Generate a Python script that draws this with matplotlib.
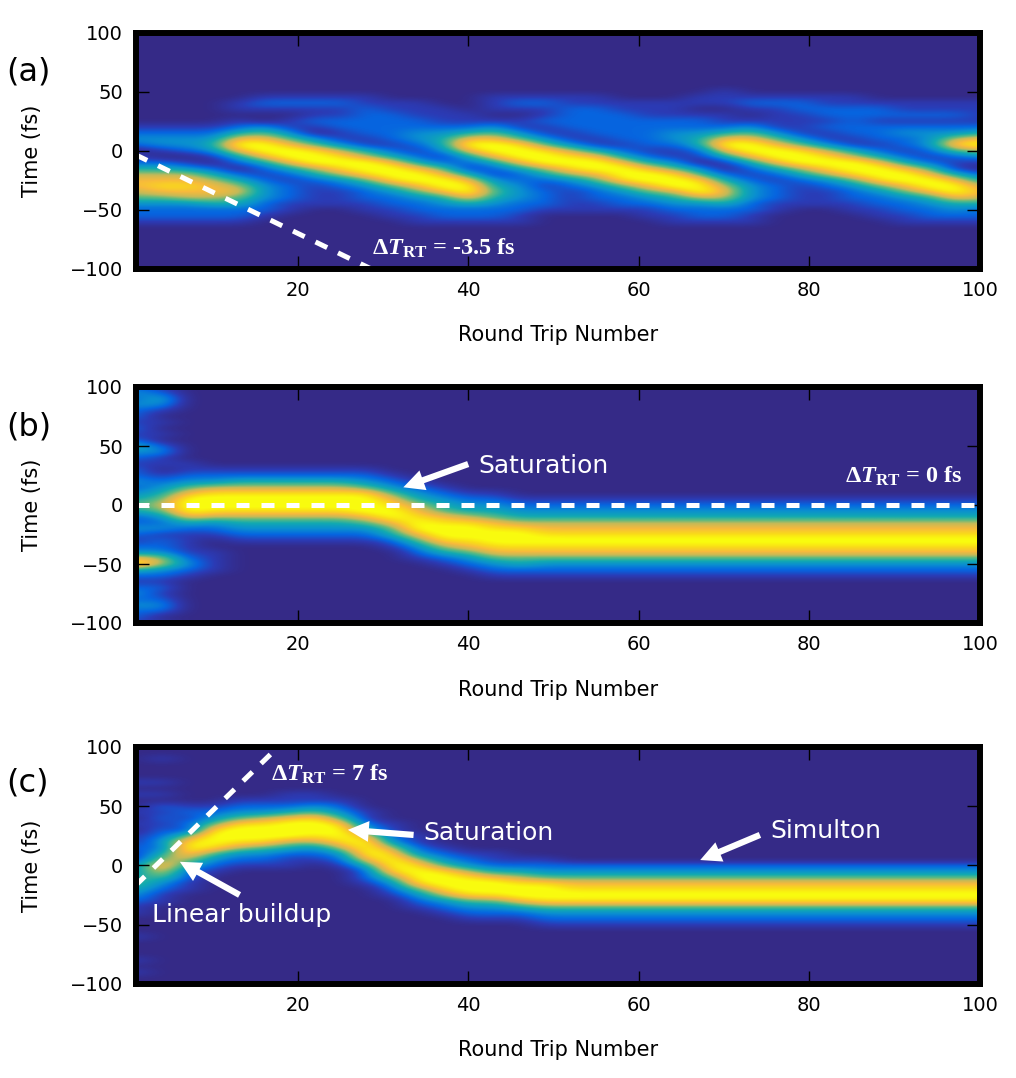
import numpy as np
import matplotlib
matplotlib.use('Agg')
import matplotlib.pyplot as plt
from matplotlib.colors import LinearSegmentedColormap

plt.rcParams['mathtext.fontset'] = 'custom'
plt.rcParams['mathtext.rm'] = 'Liberation Serif:bold'
plt.rcParams['mathtext.it'] = 'Liberation Serif:bold:italic'
plt.rcParams['mathtext.bf'] = 'Liberation Serif:bold'

W, H = 1016, 1078

# grid the intensity was read on
round_trips = np.arange(1, 101, 3)
times = np.arange(100, -105, -5)

# one string per round trip, intensity 0-9 from +100 fs down to -100 fs
panel_a = [
    '00000 00000 00000 01232 01246 77653 22100 00000 0',
    '00000 00000 00000 01233 10246 78753 22100 00000 0',
    '00000 00000 00000 01233 20136 78763 22100 00000 0',
    '00000 00000 00000 01234 31024 67764 22100 00000 0',
    '00000 00000 00110 12479 74202 46754 22100 00000 0',
    '00000 00000 01210 03579 97421 23332 21000 00000 0',
    '00000 00000 01210 11357 99742 12221 10000 00000 0',
    '00000 00000 01211 21035 89964 21111 00000 00000 0',
    '00000 00000 01211 22113 68986 32111 00000 00000 0',
    '00000 00000 01122 22211 46998 53221 10000 00000 0',
    '00000 00000 00112 22221 24799 85322 11000 00000 0',
    '00000 00000 00111 22332 12479 97532 21100 00000 0',
    '00000 00000 00011 12344 31257 99743 22100 00000 0',
    '00000 00000 00001 12479 74214 79974 22100 00000 0',
    '00000 00000 01110 13579 97421 34543 22100 00000 0',
    '00000 00000 01210 11358 99742 23332 21100 00000 0',
    '00000 00000 01211 21135 89964 21222 10000 00000 0',
    '00000 00000 01122 22113 68986 32111 10000 00000 0',
    '00000 00000 01122 22211 47997 53221 10000 00000 0',
    '00000 00000 00112 22221 24799 85322 10000 00000 0',
    '00000 00000 00111 22222 12479 97532 11000 00000 0',
    '00000 00000 00111 22332 11358 99643 21100 00000 0',
    '00000 00000 01101 22344 21035 89963 22100 00000 0',
    '00000 00000 11101 12479 74102 46764 22100 00000 0',
    '00000 00000 01210 13579 97421 23332 21100 00000 0',
    '00000 00000 01211 11357 99742 12221 10000 00000 0',
    '00000 00000 01221 11135 89964 21111 00000 00000 0',
    '00000 00000 01122 12113 68986 32111 00000 00000 0',
    '00000 00000 01122 22211 46998 53221 10000 00000 0',
    '00000 00000 00122 12221 24799 85322 11000 00000 0',
    '00000 00000 00112 12322 12479 97532 21100 00000 0',
    '00000 00000 00112 12333 21257 99743 22100 00000 0',
    '00000 00000 00112 12368 52114 79974 32100 00000 0',
    '00000 00000 00111 12479 63102 46764 22100 00000 0',
]

panel_b = [
    '23232 21212 43212 23234 54223 21237 94212 32322 1',
    '12431 01010 23110 12345 65323 12236 63212 12320 1',
    '00000 00000 00011 23579 99742 11112 32100 00000 0',
    '00000 00000 00001 23689 98632 10011 11000 00000 0',
    '00000 00000 00001 24689 98643 21000 00000 00000 0',
    '00000 00000 00001 24689 98643 21000 00000 00000 0',
    '00000 00000 00001 24689 98643 21000 00000 00000 0',
    '00000 00000 00001 24689 98643 21000 00000 00000 0',
    '00000 00000 00001 24689 98643 21000 00000 00000 0',
    '00000 00000 00001 23589 99753 21000 00000 00000 0',
    '00000 00000 00000 12357 89975 42100 00000 00000 0',
    '00000 00000 00000 01234 67899 75321 00000 00000 0',
    '00000 00000 00000 00123 45789 98642 10000 00000 0',
    '00000 00000 00000 00012 34689 98753 21000 00000 0',
    '00000 00000 00000 00012 34578 99875 32100 00000 0',
    '00000 00000 00000 00001 23468 99875 42100 00000 0',
] + ['00000 00000 00000 00001 23467 89875 32100 00000 0'] * 18

panel_c = [
    '00000 01010 01010 11211 33454 32110 00100 01010 0',
    '00100 01010 21212 23246 87532 11000 00000 00000 0',
    '00000 00000 12121 58986 42211 00000 00000 00000 0',
    '00000 00000 12358 99853 21000 00000 00000 00000 0',
    '00000 00001 23589 98632 10000 00000 00000 00000 0',
    '00000 00001 23689 98532 10000 00000 00000 00000 0',
    '00000 00011 24799 96421 10000 00000 00000 00000 0',
    '00000 00011 35899 86321 00000 00000 00000 00000 0',
    '00000 00001 23589 98632 10000 00000 00000 00000 0',
    '00000 00000 01124 79997 42210 00000 00000 00000 0',
    '00000 00000 00011 23689 98532 10000 00000 00000 0',
    '00000 00000 00000 11236 89985 32100 00000 00000 0',
    '00000 00000 00000 00123 58998 63210 00000 00000 0',
    '00000 00000 00000 00012 36899 85321 00000 00000 0',
    '00000 00000 00000 00011 24799 85321 00000 00000 0',
    '00000 00000 00000 00001 24689 97421 00000 00000 0',
    '00000 00000 00000 00001 23589 98532 10000 00000 0',
] + ['00000 00000 00000 00000 23578 98532 10000 00000 0'] * 17

panel_names = ['(a)', '(b)', '(c)']
panel_fields = [panel_a, panel_b, panel_c]
panel_tops = [32.5, 387, 747]
panel_bottoms = [268.7, 623, 983.7]
name_y = [72, 427, 783]

# dashed round trip lines: start trip, start time, slope, end trip
delta_lines = [(1, -3.5, -3.5, 30), (1, 0, 0, 100), (1, -17, 7, 17)]

parula = LinearSegmentedColormap.from_list('parula_like', [
    (0.00, '#352a87'), (0.11, '#2b3bb5'), (0.22, '#0665e0'), (0.33, '#0a8fd0'),
    (0.45, '#12aab0'), (0.57, '#5dba80'), (0.67, '#c4b958'), (0.78, '#f7ba3c'),
    (0.88, '#f9dc18'), (0.96, '#f9fb0e'), (1.00, '#f9fb0e')])


def to_field(columns):
    rows = [[int(ch) for ch in col.replace(' ', '')] for col in columns]
    return np.array(rows).T / 9.0


fig = plt.figure(figsize=(W / 100, H / 100), dpi=100)
axes = []
for i in range(3):
    ax = fig.add_axes([135.5 / W, 1 - panel_bottoms[i] / H, (980 - 135.5) / W,
                       (panel_bottoms[i] - panel_tops[i]) / H])
    ax.imshow(to_field(panel_fields[i]), cmap=parula, vmin=0, vmax=1, aspect='auto',
              interpolation='bicubic',
              extent=[round_trips[0] - 1.5, round_trips[-1] + 1.5, times[-1] - 2.5, times[0] + 2.5])
    ax.set_xlim(1, 100)
    ax.set_ylim(-100, 100)
    ax.set_xticks([20, 40, 60, 80, 100])
    ax.set_yticks([-100, -50, 0, 50, 100])
    ax.tick_params(direction='in', length=9.6, width=1, labelsize=14, top=True, right=True, pad=9)
    ax.set_xlabel('Round Trip Number', fontsize=15, labelpad=18)
    ax.set_ylabel('Time (fs)', fontsize=15, labelpad=20)
    for s in ax.spines.values():
        s.set_linewidth(4.3)
    start, t0, slope, end = delta_lines[i]
    xs = np.array([start, end])
    ax.plot(xs, t0 + slope * (xs - start), color='white', lw=3.6, ls=(0, (2.6, 2.4)))
    fig.text(6 / W, 1 - name_y[i] / H, panel_names[i], fontsize=23, va='center', ha='left')
    axes.append(ax)


def note(ax, label, x, y):
    ax.text(x, y, label, color='white', fontsize=18, va='center', ha='left')


def arrow(ax, tail, tip):
    ax.annotate('', xy=tip, xytext=tail,
                arrowprops=dict(facecolor='white', edgecolor='white', width=4.5, headwidth=15,
                                headlength=15, shrink=0, linewidth=0))


def delta(ax, label, x, y):
    ax.text(x, y, r'$\Delta T_{\mathrm{RT}}$' + label, color='white', fontsize=17.5, va='center',
            ha='left', family='Liberation Serif', weight='bold')


delta(axes[0], ' = -3.5 fs', 28.7, -83)
delta(axes[1], ' = 0 fs', 84.2, 24.5)
delta(axes[2], ' = 7 fs', 16.9, 76.5)

note(axes[1], 'Saturation', 41.2, 33)
arrow(axes[1], (40, 34.7), (32.4, 15))

note(axes[2], 'Saturation', 34.7, 27)
arrow(axes[2], (33.6, 25.7), (25.9, 30))
note(axes[2], 'Simulton', 75.4, 29)
arrow(axes[2], (74.2, 25.7), (67.2, 4.5))
note(axes[2], 'Linear buildup', 2.9, -42)
arrow(axes[2], (13.2, -25), (6.2, 3))

fig.savefig('out.png', dpi=100)
